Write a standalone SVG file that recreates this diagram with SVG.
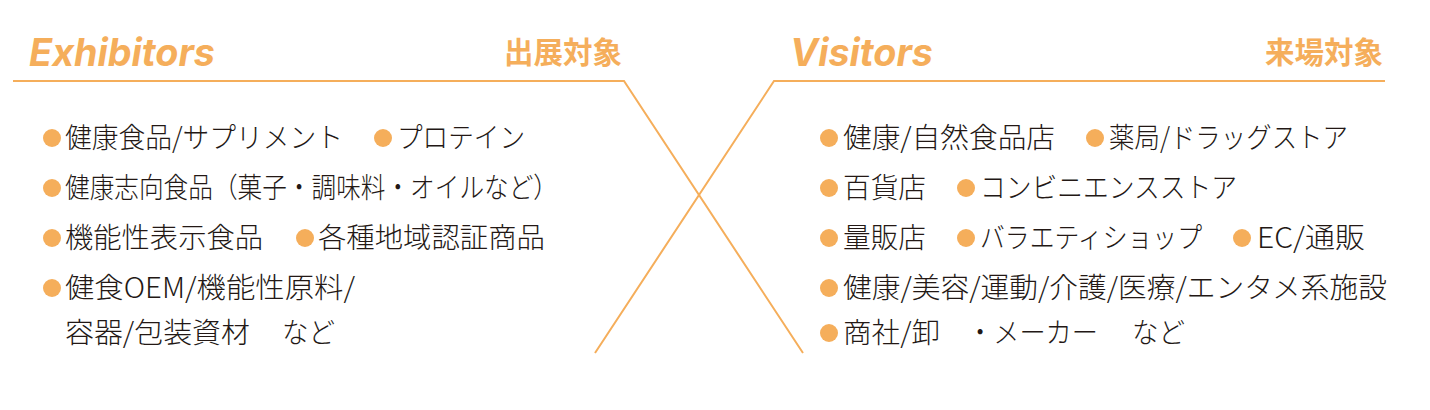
<svg xmlns="http://www.w3.org/2000/svg" width="1430" height="410" viewBox="0 0 1430 410">
<style>
.t{font-family:"Noto Sans CJK JP","Noto Sans",sans-serif;font-size:28px;fill:#231815;font-weight:300}
.h{font-family:"Inter","Noto Sans",sans-serif;font-size:38px;font-weight:700;font-style:italic;fill:#F5AE5B}
.j{font-family:"Noto Sans CJK JP",sans-serif;font-size:29.5px;font-weight:700;fill:#F5AE5B}
.b{fill:#F5AE5B}
.ln{fill:none;stroke:#F5AE5B;stroke-width:2}
</style>
<rect width="1430" height="410" fill="#ffffff"/>
<g id="connectors">
<polyline class="ln" points="13,81 624,81 803,353"/>
<polyline class="ln" points="1385,81 774,81 595,353"/>
</g>
<g id="exhibitors">
<text class="h" x="29" y="66" textLength="186" lengthAdjust="spacingAndGlyphs">Exhibitors</text>
<text class="j" x="622" y="63" text-anchor="end">出展対象</text>
<circle class="b" cx="52" cy="138" r="9"/>
<text class="t" x="65" y="148" textLength="278" lengthAdjust="spacingAndGlyphs">健康食品/サプリメント</text>
<circle class="b" cx="383" cy="138" r="9"/>
<text class="t" x="397" y="148" textLength="128" lengthAdjust="spacingAndGlyphs">プロテイン</text>
<circle class="b" cx="52" cy="188" r="9"/>
<text class="t" x="65" y="198" textLength="493" lengthAdjust="spacingAndGlyphs">健康志向食品（菓子・調味料・オイルなど）</text>
<circle class="b" cx="52" cy="238" r="9"/>
<text class="t" x="65" y="248" textLength="198" lengthAdjust="spacingAndGlyphs">機能性表示食品</text>
<circle class="b" cx="305" cy="238" r="9"/>
<text class="t" x="318" y="248" textLength="227" lengthAdjust="spacingAndGlyphs">各種地域認証商品</text>
<circle class="b" cx="52" cy="288" r="9"/>
<text class="t" x="65" y="298" textLength="290" lengthAdjust="spacingAndGlyphs">健食OEM/機能性原料/</text>
<text class="t" x="65" y="343" textLength="185" lengthAdjust="spacingAndGlyphs">容器/包装資材</text>
<text class="t" x="282" y="343" textLength="53" lengthAdjust="spacingAndGlyphs">など</text>
</g>
<g id="visitors">
<text class="h" x="790" y="66" textLength="143" lengthAdjust="spacingAndGlyphs">Visitors</text>
<text class="j" x="1383" y="63" text-anchor="end">来場対象</text>
<circle class="b" cx="829" cy="138" r="9"/>
<text class="t" x="843" y="148" textLength="212" lengthAdjust="spacingAndGlyphs">健康/自然食品店</text>
<circle class="b" cx="1095" cy="138" r="9"/>
<text class="t" x="1109" y="148" textLength="239" lengthAdjust="spacingAndGlyphs">薬局/ドラッグストア</text>
<circle class="b" cx="829" cy="188" r="9"/>
<text class="t" x="843" y="198" textLength="83" lengthAdjust="spacingAndGlyphs">百貨店</text>
<circle class="b" cx="966" cy="188" r="9"/>
<text class="t" x="980" y="198" textLength="257" lengthAdjust="spacingAndGlyphs">コンビニエンスストア</text>
<circle class="b" cx="829" cy="238" r="9"/>
<text class="t" x="843" y="248" textLength="83" lengthAdjust="spacingAndGlyphs">量販店</text>
<circle class="b" cx="966" cy="238" r="9"/>
<text class="t" x="980" y="248" textLength="222" lengthAdjust="spacingAndGlyphs">バラエティショップ</text>
<circle class="b" cx="1242" cy="238" r="9"/>
<text class="t" x="1257" y="248" textLength="108" lengthAdjust="spacingAndGlyphs">EC/通販</text>
<circle class="b" cx="829" cy="288" r="9"/>
<text class="t" x="843" y="298" textLength="544" lengthAdjust="spacingAndGlyphs">健康/美容/運動/介護/医療/エンタメ系施設</text>
<circle class="b" cx="829" cy="333" r="9"/>
<text class="t" x="843" y="343" textLength="97" lengthAdjust="spacingAndGlyphs">商社/卸</text>
<text class="t" x="967" y="343" textLength="131" lengthAdjust="spacingAndGlyphs">・メーカー</text>
<text class="t" x="1132" y="343" textLength="53" lengthAdjust="spacingAndGlyphs">など</text>
</g>
</svg>
